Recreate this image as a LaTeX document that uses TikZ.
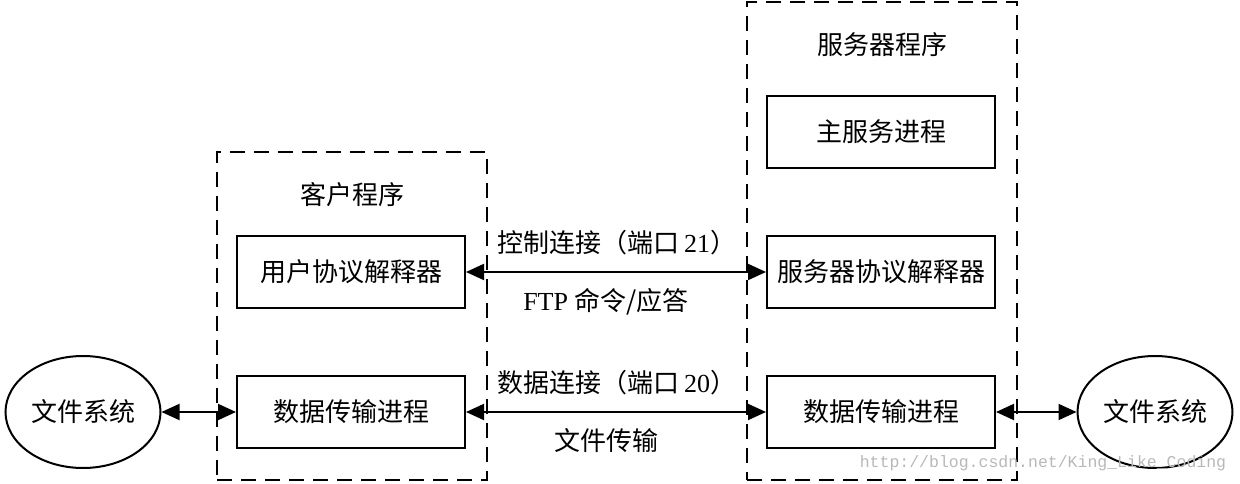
\documentclass[tikz,border=0pt]{standalone}
\usepackage{fontspec}
\setmainfont{Liberation Serif}
\newfontfamily\cjk{Noto Sans CJK SC}
\newfontfamily\wmfont{Liberation Mono}
\usetikzlibrary{shapes.geometric,arrows.meta}
\begin{document}
\begin{tikzpicture}[x=1pt,y=-1pt,
  every node/.style={font=\fontsize{26}{30}\selectfont},
  procbox/.style={draw,line width=2pt,minimum width=228pt,minimum height=72pt,inner sep=0pt},
  groupbox/.style={draw,line width=2.4pt,dash pattern=on 15pt off 9pt,minimum width=270pt,inner sep=0pt},
  fsys/.style={draw,ellipse,line width=2pt,minimum width=155pt,minimum height=112pt,inner sep=0pt},
  link/.style={line width=2pt,{Triangle[length=18pt,width=16pt]}-{Triangle[length=18pt,width=16pt]}},
  plain/.style={inner sep=0pt}]
\useasboundingbox (0,0) rectangle (1240,484);

% program groups
\node[groupbox,minimum height=328pt] (client) at (352,316) {};
\node[groupbox,minimum height=478pt] (server) at (882,241) {};
\node[plain] (clientlbl) at (352,195) {\cjk 客户程序};
\node[plain] (serverlbl) at (882,45) {\cjk 服务器程序};

% processes
\node[procbox] (upi) at (351,272) {\cjk 用户协议解释器};
\node[procbox] (udtp) at (351,412) {\cjk 数据传输进程};
\node[procbox] (main) at (881,132) {\cjk 主服务进程};
\node[procbox] (spi) at (881,272) {\cjk 服务器协议解释器};
\node[procbox] (sdtp) at (881,412) {\cjk 数据传输进程};

% file systems
\node[fsys] (fsl) at (83,412) {\cjk 文件系统};
\node[fsys] (fsr) at (1155,412) {\cjk 文件系统};

% connections
\draw[link] (upi.east) -- (spi.west);
\draw[link] (udtp.east) -- (sdtp.west);
\draw[link] (fsl.east) -- (udtp.west);
\draw[link] (sdtp.east) -- (fsr.west);

% connection labels
\node[plain] (ctl) at (617,243) {{\cjk 控制连接（端口}\,21{\cjk ）}};
\node[plain] (ftp) at (606,302) {FTP {\cjk 命令/应答}};
\node[plain] (dat) at (617,383) {{\cjk 数据连接（端口}\,20{\cjk ）}};
\node[plain] (xfer) at (606,441) {\cjk 文件传输};

% watermark
\node[plain,text=black!28,font=\wmfont\fontsize{16.5}{18}\selectfont] (wm) at (1043,463) {http://blog.csdn.net/King\_Like\_Coding};
\end{tikzpicture}
\end{document}
